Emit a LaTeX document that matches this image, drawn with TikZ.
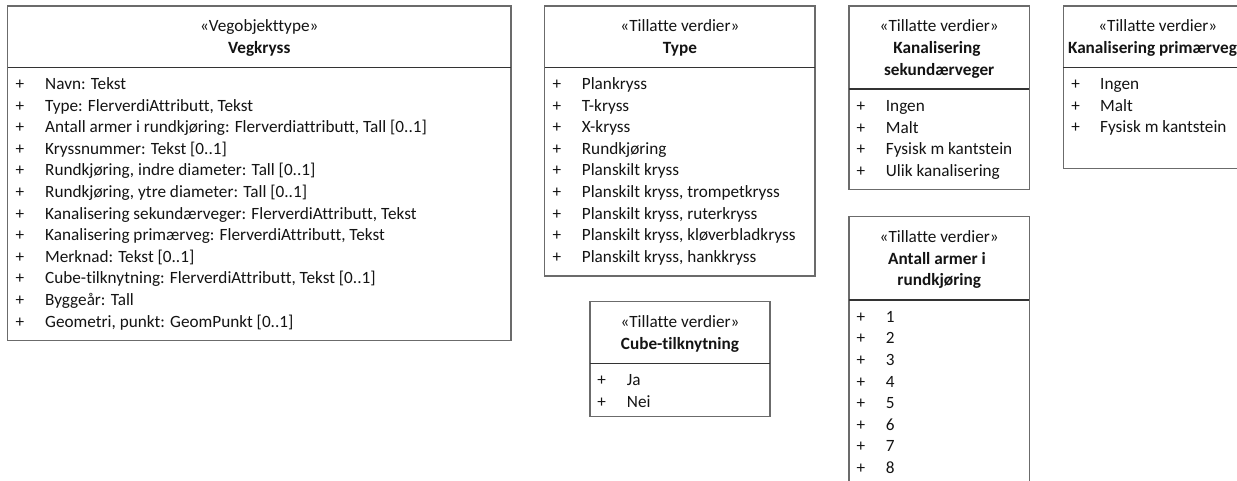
\documentclass[tikz,border=0pt]{standalone}
\usepackage{fontspec}
\setmainfont{Carlito}[Ligatures=NoCommon]
\definecolor{boxline}{gray}{0.42}
\definecolor{sepline}{gray}{0.2}
\definecolor{txt}{gray}{0.08}
\tikzset{
  umlbox/.style={draw=boxline, line width=1.3pt},
  sepln/.style={draw=sepline, line width=1.1pt},
  stereo/.style={anchor=base, inner sep=0pt, text=txt, font=\fontsize{17.2}{20}\selectfont},
  cname/.style={anchor=base, inner sep=0pt, text=txt, font=\fontsize{17.2}{20}\selectfont\bfseries},
  item/.style={anchor=base west, inner sep=0pt, text=txt, font=\fontsize{17.2}{20}\selectfont},
  plus/.style={anchor=base, inner sep=0pt, text=txt, font=\fontsize{17.2}{20}\selectfont},
}
\begin{document}
\begin{tikzpicture}[x=1pt,y=-1pt]
\useasboundingbox (0,0) rectangle (1237,481);
\clip (0,0) rectangle (1237,481);
\fill[white] (0,0) rectangle (1237,481);

% ---------- Vegkryss ----------
\draw[umlbox] (7.5,6) rectangle (511,340.5);
\draw[sepln] (7.5,67.3) -- (511,67.3);
\node[stereo] (v-st) at (259.3,32) {«Vegobjekttype»};
\node[cname] (v-nm) at (259.3,53.6) {Vegkryss};
\foreach \t [count=\i from 0] in {
  {Navn: Tekst},
  {Type: FlerverdiAttributt, Tekst},
  {Antall armer i rundkjøring: Flerverdiattributt, Tall [0..1]},
  {Kryssnummer: Tekst [0..1]},
  {Rundkjøring, indre diameter: Tall [0..1]},
  {Rundkjøring, ytre diameter: Tall [0..1]},
  {Kanalisering sekundærveger: FlerverdiAttributt, Tekst},
  {Kanalisering primærveg: FlerverdiAttributt, Tekst},
  {Merknad: Tekst [0..1]},
  {Cube-tilknytning: FlerverdiAttributt, Tekst [0..1]},
  {Byggeår: Tall},
  {Geometri, punkt: GeomPunkt [0..1]}}{
  \node[plus] (v-p\i) at (20,89.5+21.6*\i) {+};
  \node[item] (v-a\i) at (45,89.5+21.6*\i) {\t};
}

% ---------- Type ----------
\draw[umlbox] (544.7,6) rectangle (815,276);
\draw[sepln] (544.7,67.3) -- (815,67.3);
\node[stereo] (t-st) at (679.9,32) {«Tillatte verdier»};
\node[cname] (t-nm) at (679.9,53.6) {Type};
\foreach \t [count=\i from 0] in {
  {Plankryss},
  {T-kryss},
  {X-kryss},
  {Rundkjøring},
  {Planskilt kryss},
  {Planskilt kryss, trompetkryss},
  {Planskilt kryss, ruterkryss},
  {Planskilt kryss, kløverbladkryss},
  {Planskilt kryss, hankkryss}}{
  \node[plus] (t-p\i) at (557,89.5+21.6*\i) {+};
  \node[item] (t-a\i) at (581.7,89.5+21.6*\i) {\t};
}

% ---------- Cube-tilknytning ----------
\draw[umlbox] (590,301.7) rectangle (770,416.7);
\draw[sepln] (590,363.3) -- (770,363.3);
\node[stereo] (c-st) at (680,327.6) {«Tillatte verdier»};
\node[cname] (c-nm) at (680,349.2) {Cube-tilknytning};
\foreach \t [count=\i from 0] in {{Ja},{Nei}}{
  \node[plus] (c-p\i) at (601.7,385.5+21.6*\i) {+};
  \node[item] (c-a\i) at (626.7,385.5+21.6*\i) {\t};
}

% ---------- Kanalisering sekundærveger ----------
\draw[umlbox] (849,6) rectangle (1029.3,189.3);
\draw[sepln] (849,89) -- (1029.3,89);
\node[stereo] (s-st) at (939.2,32) {«Tillatte verdier»};
\node[cname] (s-nm1) at (937,53.6) {Kanalisering};
\node[cname] (s-nm2) at (939.2,75.2) {sekundærveger};
\foreach \t [count=\i from 0] in {{Ingen},{Malt},{Fysisk m kantstein},{Ulik kanalisering}}{
  \node[plus] (s-p\i) at (861,111.6+21.6*\i) {+};
  \node[item] (s-a\i) at (885.7,111.6+21.6*\i) {\t};
}

% ---------- Antall armer i rundkjøring ----------
\draw[umlbox] (849,500) -- (849,216.7) -- (1029.3,216.7) -- (1029.3,500);
\draw[sepln] (849,300) -- (1029.3,300);
\node[stereo] (r-st) at (939.2,242.5) {«Tillatte verdier»};
\node[cname] (r-nm1) at (937,264.1) {Antall armer i};
\node[cname] (r-nm2) at (939.2,285.7) {rundkjøring};
\foreach \t [count=\i from 0] in {1,2,3,4,5,6,7,8}{
  \node[plus] (r-p\i) at (861,322.2+21.6*\i) {+};
  \node[item] (r-a\i) at (885.7,322.2+21.6*\i) {\t};
}

% ---------- Kanalisering primærveg ----------
\draw[umlbox] (1250,6) -- (1063.3,6) -- (1063.3,168.3) -- (1250,168.3);
\draw[sepln] (1063.3,67.3) -- (1250,67.3);
\node[stereo] (k-st) at (1157.8,32) {«Tillatte verdier»};
\node[cname] (k-nm) at (1152.5,53.6) {Kanalisering primærveg};
\foreach \t [count=\i from 0] in {{Ingen},{Malt},{Fysisk m kantstein}}{
  \node[plus] (k-p\i) at (1075.7,89.5+21.6*\i) {+};
  \node[item] (k-a\i) at (1100,89.5+21.6*\i) {\t};
}
\end{tikzpicture}
\end{document}
